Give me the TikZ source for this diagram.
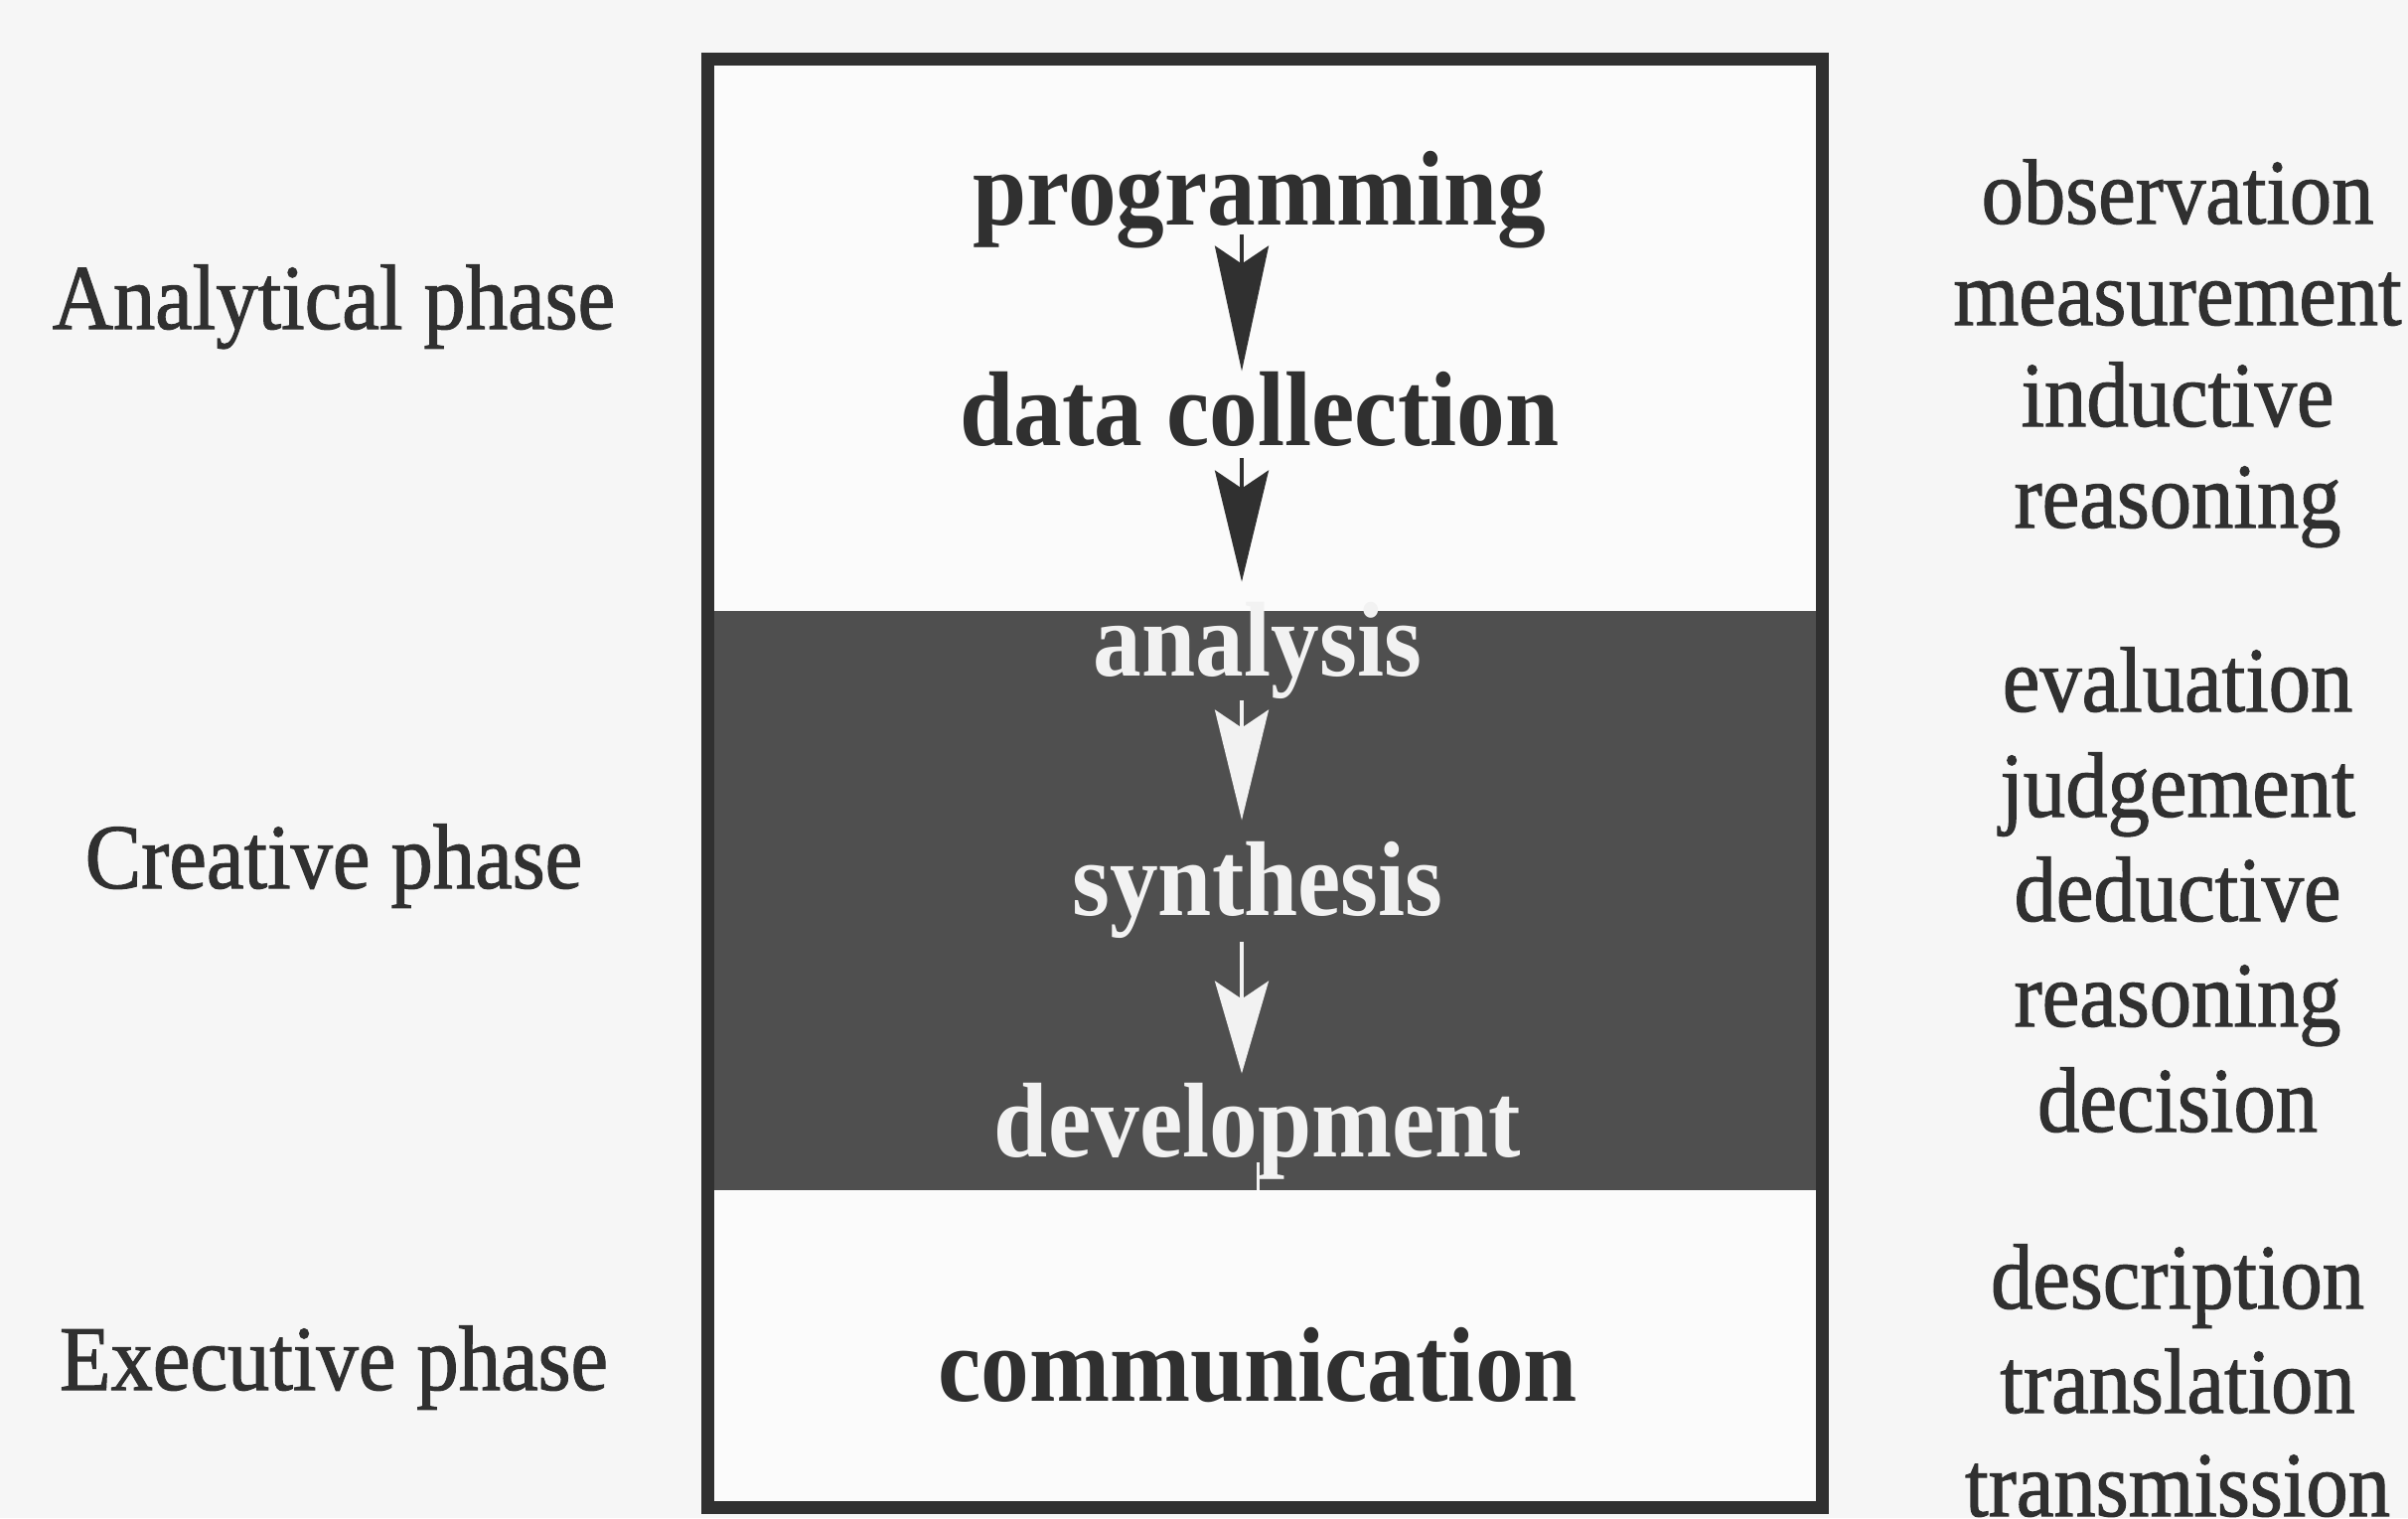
\documentclass[tikz,border=0pt]{standalone}
\usepackage{fontspec}
\setmainfont{Liberation Serif}[FakeStretch=0.91]
\newfontfamily\labelfont{Liberation Serif}[FakeStretch=0.91, FakeBold=1.2]
\usetikzlibrary{arrows.meta}
\definecolor{ink}{gray}{0.19}
\definecolor{paper}{gray}{0.965}
\definecolor{boxfill}{gray}{0.985}
\definecolor{band}{gray}{0.31}
\definecolor{light}{gray}{0.95}
\begin{document}
\begin{tikzpicture}[x=1pt,y=-1pt,
  phase/.style={font=\labelfont\fontsize{93}{104}\selectfont, text=ink, inner sep=0pt, anchor=base},
  term/.style={phase},
  stage/.style={font=\fontsize{107}{110}\selectfont\bfseries, text=ink, inner sep=0pt, anchor=base},
  stagelight/.style={stage, text=light},
  flow/.style={line width=4pt, draw=ink,
    -{Stealth[length=#1, width=54pt, inset=18pt]}},
  flowlight/.style={flow=#1, draw=light, fill=light}]

% page and frame
\fill[paper] (0,0) rectangle (2424,1528);
\useasboundingbox (0,0) rectangle (2424,1528);
\fill[boxfill] (712,60) rectangle (1834,1517);
\fill[band] (712,615) rectangle (1834,1198);
\draw[ink, line width=13pt] (712,60) rectangle (1834,1517);
\coordinate (ax) at (1250,0);
\coordinate (bandtop) at (1266,615);
\coordinate (bandbot) at (1266,1198);

% short light stems running through the dark band
\draw[light, line width=3pt] (bandtop) -- (1266,652);
\draw[light, line width=3pt] (1266,1170) -- (bandbot);

% stages inside the frame
\node[stage] (prog) at (1268,226) {programming};
\node[stage] (data) at (1268,448) {data collection};
\node[stagelight] (ana) at (1266,680) {analysis};
\node[stagelight] (syn) at (1266,921) {synthesis};
\node[stagelight] (dev) at (1266,1164) {development};
\node[stage] (com) at (1266,1410) {communication};

% flow between stages
\draw[flow=126pt] ([yshift=14pt]prog.south -| ax) -- (data.north -| ax);
\draw[flow=112pt, shorten >=20pt] ([yshift=-12pt]data.south -| ax) -- (ana.north -| ax);
\draw[flowlight=111pt, shorten >=21pt] ([yshift=-2pt]ana.south -| ax) -- (syn.north -| ax);
\draw[flowlight=93pt, shorten >=9pt] ([yshift=-4pt]syn.south -| ax) -- (dev.north -| ax);

% phases on the left
\node[phase] (pa) at (336,331) {Analytical phase};
\node[phase] (pc) at (336,894) {Creative phase};
\node[phase] (pe) at (336,1399) {Executive phase};

% activities on the right
\node[term] (t1) at (2192,225) {observation};
\node[term] (t2) at (2192,327) {measurement};
\node[term] (t3) at (2192,429) {inductive};
\node[term] (t4) at (2192,531) {reasoning};
\node[term] (t5) at (2192,716) {evaluation};
\node[term] (t6) at (2192,822) {judgement};
\node[term] (t7) at (2192,927) {deductive};
\node[term] (t8) at (2192,1033) {reasoning};
\node[term] (t9) at (2192,1139) {decision};
\node[term] (t10) at (2192,1317) {description};
\node[term] (t11) at (2192,1422) {translation};
\node[term] (t12) at (2192,1526) {transmission};
\end{tikzpicture}
\end{document}
